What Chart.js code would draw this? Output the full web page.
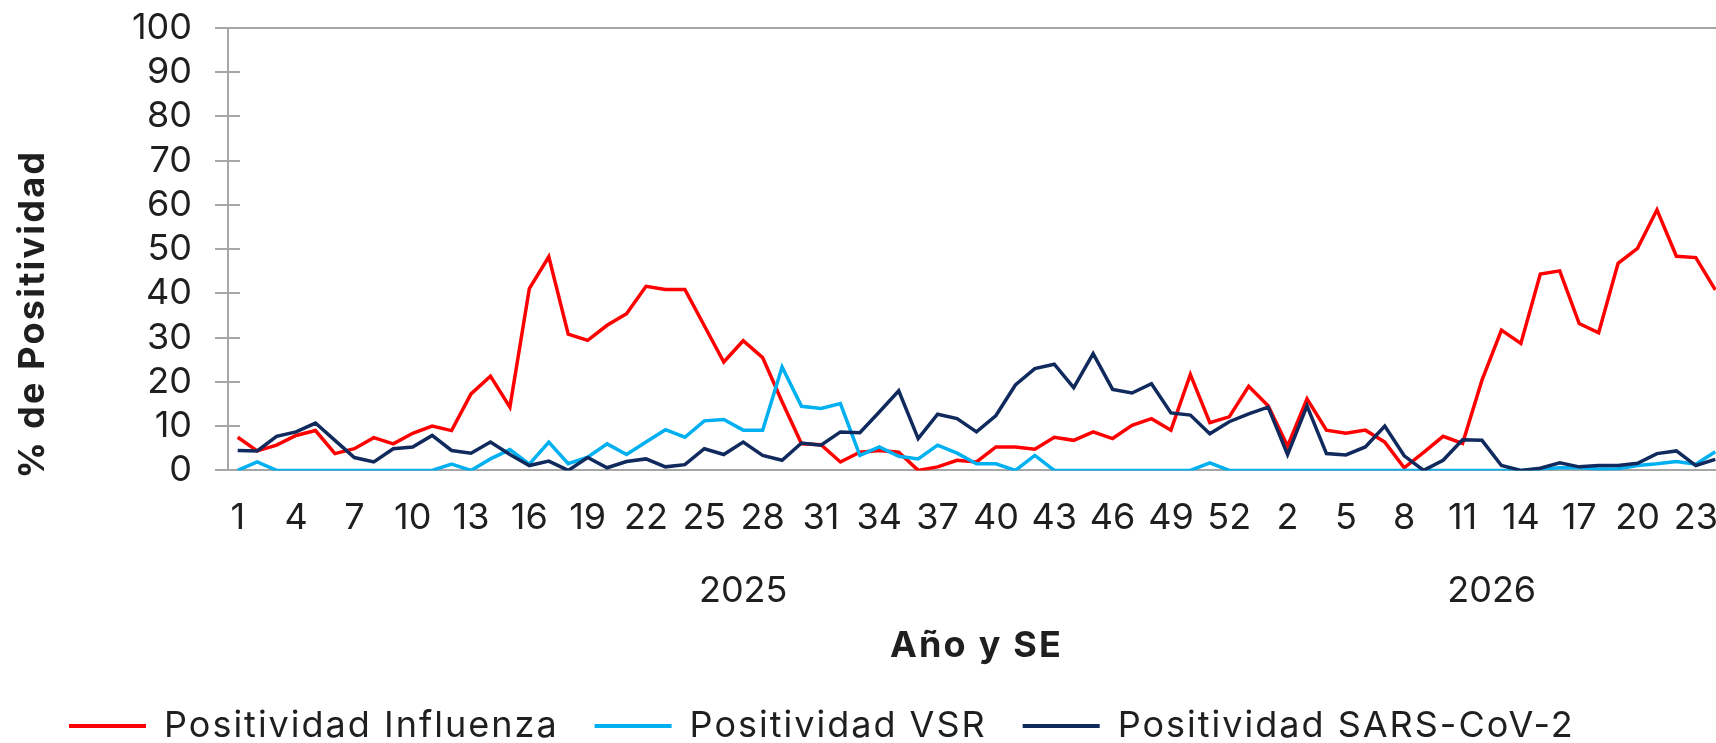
<!DOCTYPE html>
<html lang="es">
<head>
<meta charset="utf-8">
<title>Positividad Influenza, VSR y SARS-CoV-2</title>
<script src="https://cdn.jsdelivr.net/npm/chart.js"></script>
<style>
    html, body { margin: 0; padding: 0; background: #fff; overflow: hidden; }
    #contenedor { position: relative; width: 1735px; height: 760px; }
</style>
</head>
<body>
<div id="contenedor"><canvas id="grafico"></canvas></div>
<script>
// Semanas epidemiológicas (SE) por año
const semanas2025 = ['1', '2', '3', '4', '5', '6', '7', '8', '9', '10',
    '11', '12', '13', '14', '15', '16', '17', '18', '19', '20',
    '21', '22', '23', '24', '25', '26', '27', '28', '29', '30',
    '31', '32', '33', '34', '35', '36', '37', '38', '39', '40',
    '41', '42', '43', '44', '45', '46', '47', '48', '49', '50',
    '51', '52', '53'];
const semanas2026 = ['1', '2', '3', '4', '5', '6', '7', '8', '9', '10',
    '11', '12', '13', '14', '15', '16', '17', '18', '19', '20',
    '21', '22', '23', '24'];
const anios = ['2025', '2026'];

// % de positividad por semana
const influenza = [7.5, 4.4, 5.7, 7.9, 9.0, 3.8, 4.9, 7.4, 6.0, 8.4,
    10.0, 9.0, 17.3, 21.3, 14.3, 41.1, 48.3, 30.8, 29.4, 32.8,
    35.4, 41.6, 40.9, 40.9, 32.7, 24.5, 29.3, 25.5, 15.5, 6.0,
    5.8, 1.9, 4.1, 4.5, 4.1, 0.0, 0.8, 2.3, 1.9, 5.3,
    5.3, 4.8, 7.5, 6.8, 8.7, 7.2, 10.2, 11.7, 9.1, 21.7,
    10.8, 12.1, 19.0, 14.6, 5.5, 16.2, 9.1, 8.4, 9.1, 6.4,
    0.6, 4.1, 7.7, 6.1, 20.4, 31.7, 28.7, 44.4, 45.1, 33.2,
    31.1, 46.8, 50.2, 58.9, 48.4, 48.1, 40.8];
const vsr = [0, 1.9, 0, 0, 0, 0, 0, 0, 0, 0,
    0, 1.4, 0, 2.6, 4.7, 1.4, 6.4, 1.5, 3.0, 6.0,
    3.6, 6.4, 9.2, 7.5, 11.2, 11.5, 9.1, 9.1, 23.4, 14.5,
    14.0, 15.1, 3.4, 5.3, 3.2, 2.6, 5.7, 3.9, 1.5, 1.5,
    0, 3.4, 0, 0, 0, 0, 0, 0, 0, 0,
    1.7, 0, 0, 0, 0, 0, 0, 0, 0, 0,
    0, 0, 0, 0, 0, 0, 0, 0.3, 0.6, 0.6,
    0.3, 0.4, 1.1, 1.5, 2.0, 1.4, 4.2];
const sarsCov2 = [4.5, 4.4, 7.7, 8.7, 10.7, 6.8, 2.9, 1.9, 4.9, 5.3,
    7.9, 4.5, 3.9, 6.4, 3.6, 1.1, 2.1, 0, 2.9, 0.6,
    2.0, 2.6, 0.8, 1.3, 4.9, 3.6, 6.4, 3.4, 2.3, 6.2,
    5.7, 8.7, 8.5, 13.2, 18.0, 7.2, 12.7, 11.7, 8.7, 12.4,
    19.3, 23.0, 24.0, 18.7, 26.4, 18.3, 17.5, 19.6, 13.0, 12.5,
    8.3, 11.0, 12.8, 14.3, 3.6, 14.6, 3.8, 3.5, 5.3, 10.0,
    3.3, 0, 2.3, 6.9, 6.8, 1.1, 0, 0.5, 1.7, 0.8,
    1.1, 1.1, 1.6, 3.8, 4.4, 1.1, 2.5];

const semanas = semanas2025.concat(semanas2026);
// centro de cada grupo de año en el eje (índices de categoría)
const centrosAnios = [
    (semanas2025.length - 1) / 2,
    semanas2025.length + (semanas2026.length - 1) / 2
];

const ROJO = '#FF0000';
const CELESTE = '#00B0F0';
const AZUL = '#102A5E';
const GRIS = '#A6A6A6';
const TEXTO = '#1F1F1F';

Chart.defaults.font.family = 'Inter, "DejaVu Sans", sans-serif';
Chart.defaults.font.size = 36;
Chart.defaults.color = TEXTO;

// texto algo más espaciado (la fuente original es más ancha)
function conEspaciado(obj, metodo, espaciado, dy) {
    const original = obj[metodo];
    obj[metodo] = function (...args) {
        const ctx = this.ctx;
        const previo = ctx.letterSpacing;
        ctx.save();
        if (dy) ctx.translate(0, dy);
        ctx.letterSpacing = espaciado;
        const r = original.apply(this, args);
        ctx.restore();
        ctx.letterSpacing = previo;
        return r;
    };
}

// marcas cortas del eje Y hacia dentro, posición de la leyenda y espaciado
const extras = {
    id: 'extras',
    beforeUpdate(chart) {
        const lg = chart.legend;
        if (lg && !lg._espaciado) {
            conEspaciado(lg, 'fit', '2px');
            conEspaciado(lg, 'draw', '2px');
            lg._espaciado = true;
        }
    },
    afterLayout(chart) {
        chart.legend.left += 33;
        chart.legend.right += 33;
    },
    beforeDraw(chart) {
        const y = chart.scales.y;
        if (y && !y._espaciado) {
            conEspaciado(y, 'drawTitle', '2.2px', 8);
            y._espaciado = true;
        }
        const x2 = chart.scales.x2;
        if (x2 && !x2._espaciado) {
            conEspaciado(x2, 'drawTitle', '2.2px', 0);
            x2._espaciado = true;
        }
    },
    beforeDatasetsDraw(chart) {
        const y = chart.scales.y;
        const ctx = chart.ctx;
        ctx.save();
        ctx.strokeStyle = GRIS;
        ctx.lineWidth = 2;
        y.ticks.forEach(t => {
            const py = Math.round(y.getPixelForValue(t.value));
            ctx.beginPath();
            ctx.moveTo(y.right, py);
            ctx.lineTo(y.right + 12, py);
            ctx.stroke();
        });
        ctx.restore();
    }
};

new Chart(document.getElementById('grafico'), {
    type: 'line',
    data: {
        labels: semanas,
        datasets: [
            { label: 'Positividad Influenza', data: influenza, borderColor: ROJO, backgroundColor: ROJO, order: 3 },
            { label: 'Positividad VSR', data: vsr, borderColor: CELESTE, backgroundColor: CELESTE, order: 2 },
            { label: 'Positividad SARS-CoV-2', data: sarsCov2, borderColor: AZUL, backgroundColor: AZUL, order: 1 }
        ]
    },
    options: {
        responsive: true,
        maintainAspectRatio: false,
        animation: false,
        layout: { padding: { top: 28, right: 10, bottom: 6, left: 0 } },
        elements: {
            line: { borderWidth: 3.5, tension: 0 },
            point: { radius: 0, hoverRadius: 0 }
        },
        plugins: {
            tooltip: { enabled: false },
            legend: {
                position: 'bottom',
                align: 'start',
                labels: {
                    boxWidth: 77,
                    boxHeight: 4,
                    padding: 36,
                    color: TEXTO,
                    sort: (a, b) => a.datasetIndex - b.datasetIndex,
                    generateLabels(chart) {
                        const items = Chart.defaults.plugins.legend.labels.generateLabels(chart);
                        items.forEach(it => { it.lineWidth = 0; });
                        return items;
                    }
                }
            }
        },
        scales: {
            x: {
                type: 'category',
                weight: 0,
                offset: true,
                grid: { display: false, drawTicks: false },
                border: { display: true, color: GRIS, width: 2 },
                ticks: {
                    autoSkip: false,
                    maxRotation: 0,
                    minRotation: 0,
                    padding: 26,
                    callback(v, i) { return i % 3 === 0 ? this.getLabelForValue(v) : ''; }
                },
                afterFit(scale) { scale.paddingLeft = 0; scale.paddingRight = 0; }
            },
            x2: {
                type: 'linear',
                position: 'bottom',
                weight: 1,
                min: -0.5,
                max: semanas.length - 0.5,
                grid: { display: false, drawTicks: false },
                border: { display: false },
                afterBuildTicks(scale) { scale.ticks = centrosAnios.map(v => ({ value: v })); },
                ticks: {
                    padding: 4,
                    maxRotation: 0,
                    autoSkip: false,
                    callback(v) { return anios[centrosAnios.indexOf(v)]; }
                },
                title: {
                    display: true,
                    text: 'Año y SE',
                    font: { weight: 'bold' },
                    padding: { top: 8, bottom: 4 }
                },
                afterFit(scale) { scale.paddingLeft = 0; scale.paddingRight = 0; }
            },
            y: {
                min: 0,
                max: 100,
                ticks: { stepSize: 10, padding: 23, autoSkip: false },
                grid: {
                    color: c => (c.tick && c.tick.value === 100 ? GRIS : 'rgba(0,0,0,0)'),
                    tickColor: GRIS,
                    tickLength: 13,
                    lineWidth: 2
                },
                border: { display: true, color: GRIS, width: 2 },
                title: {
                    display: true,
                    text: '% de Positividad',
                    align: 'start',
                    font: { weight: 'bold' },
                    padding: { top: 12, bottom: 0 }
                },
                afterFit(scale) { scale.width = 228; scale.paddingTop = 0; scale.paddingBottom = 0; }
            }
        }
    },
    plugins: [extras]
});
</script>
</body>
</html>
